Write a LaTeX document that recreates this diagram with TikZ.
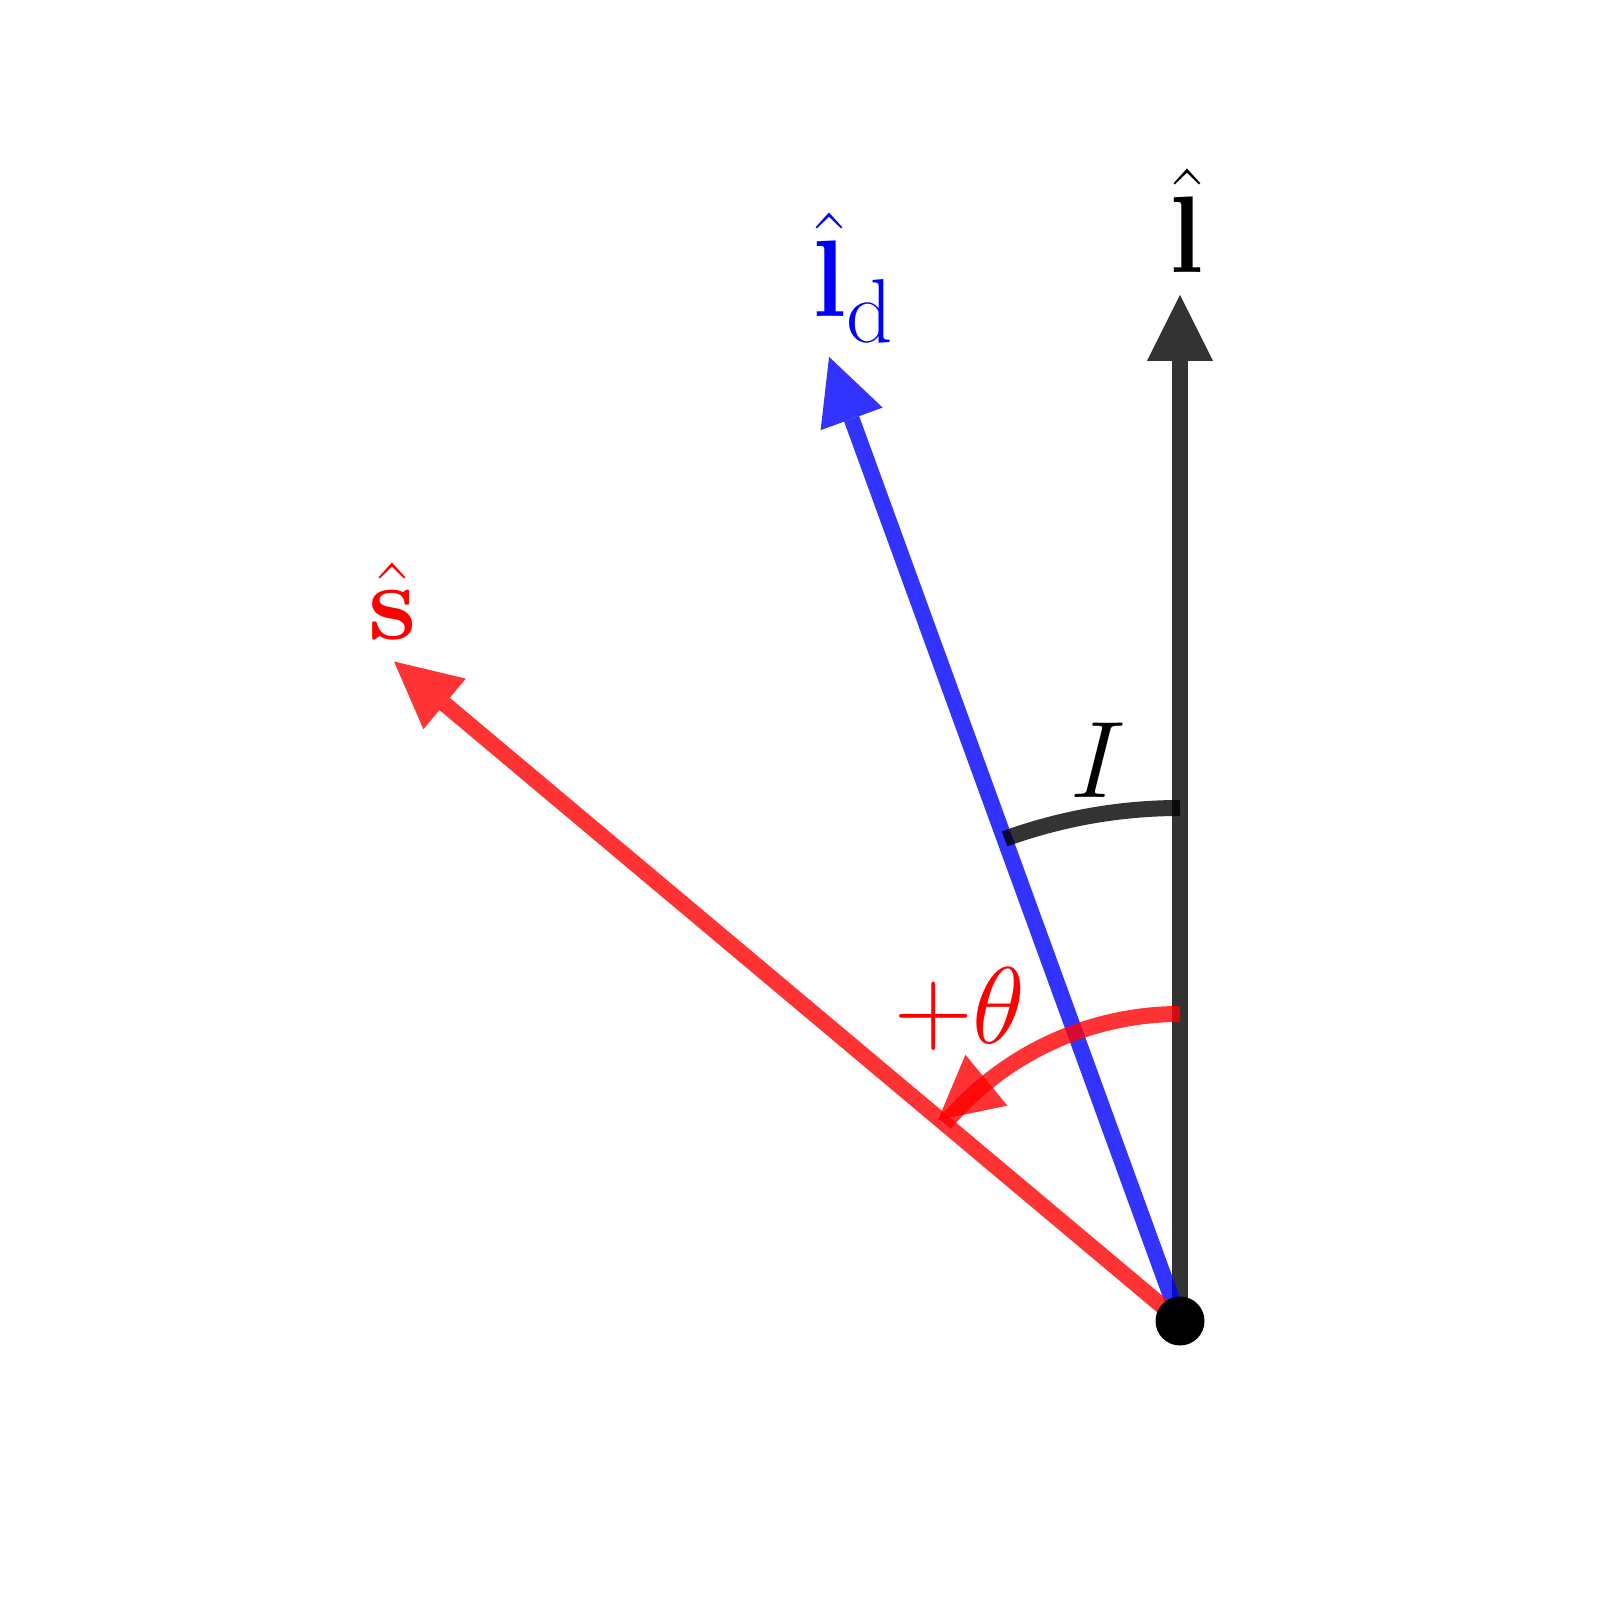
\documentclass[tikz,border=0pt]{standalone}
\usetikzlibrary{calc}
\definecolor{vred}{HTML}{FF0000}
\definecolor{vblue}{HTML}{0000FF}
\tikzset{
  shaft/.style={line width=1.6mm, opacity=0.8},
  arcline/.style={line width=1.6mm, opacity=0.8},
  headfill/.style={opacity=0.8},
  lbl/.style={anchor=base, inner sep=0pt, font=\Huge, scale=1.246},
}
\begin{document}
\begin{tikzpicture}
\useasboundingbox (-11.80,-2.79) rectangle (4.20,13.21);
\coordinate (O) at (0,0);
% tips and head bases
\coordinate (L) at (90:10.26);
\coordinate (Lb) at (90:9.60);
\coordinate (Ld) at (110:10.26);
\coordinate (Ldb) at (110:9.60);
\coordinate (S) at (140:10.26);
\coordinate (Sb) at (140:9.60);
\coordinate (Ia) at (90:5.13);
\coordinate (Ta) at (90:3.07);
\coordinate (Tt) at (140.3:3.146);
\coordinate (Tb) at (128.8:3.09);
% shafts
\draw[shaft, black] (O) -- (Lb);
\draw[shaft, blue] (O) -- (Ldb);
\draw[shaft, red] (O) -- (Sb);
% heads
\fill[headfill, black] (L) -- ($(Lb)!0.33cm!90:(L)$) -- ($(Lb)!0.33cm!-90:(L)$) -- cycle;
\fill[headfill, blue] (Ld) -- ($(Ldb)!0.33cm!90:(Ld)$) -- ($(Ldb)!0.33cm!-90:(Ld)$) -- cycle;
\fill[headfill, red] (S) -- ($(Sb)!0.33cm!90:(S)$) -- ($(Sb)!0.33cm!-90:(S)$) -- cycle;
% angle arcs
\draw[arcline, black] (Ia) arc[start angle=90, end angle=110, radius=5.13];
\draw[arcline, red] (Ta) arc[start angle=90, end angle=140, radius=3.07];
\fill[headfill, red] (Tt) -- ($(Tb)!0.33cm!90:(Tt)$) -- ($(Tb)!0.33cm!-90:(Tt)$) -- cycle;
% origin
\fill[black] (O) circle (0.245);
% labels
\node[lbl, text=black] (lL) at (0.07,10.48) {$\hat{\mathbf{l}}$};
\node[lbl, text=vblue] (lLd) at (-3.26,10.04) {$\hat{\mathbf{l}}_{\mathrm{d}}$};
\node[lbl, text=vred] (lS) at (-7.875,6.81) {$\hat{\mathbf{s}}$};
\node[lbl, text=black] (lI) at (-0.82,5.23) {$I$};
\node[lbl, text=vred] (lT) at (-2.20,2.77) {$+\theta$};
\end{tikzpicture}
\end{document}
